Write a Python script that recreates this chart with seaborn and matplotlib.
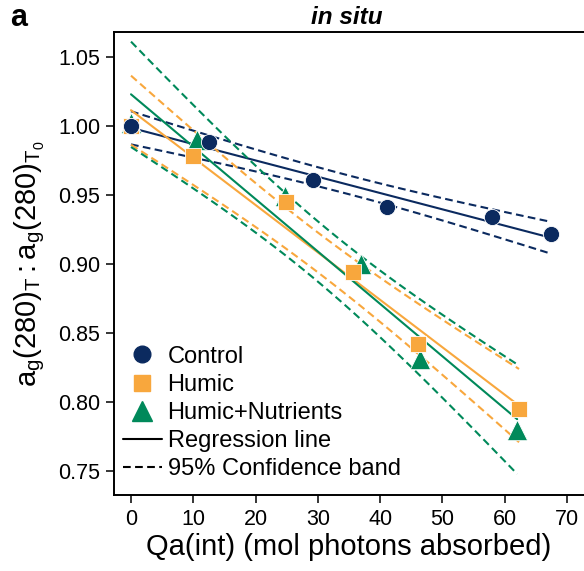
import numpy as np
import pandas as pd
import matplotlib
matplotlib.use("Agg")
import matplotlib.pyplot as plt
from matplotlib.lines import Line2D
import seaborn as sns

# ---- data ----
groups = ["Control", "Humic", "Humic+Nutrients"]
control_x = [0.0, 12.5, 29.2, 41.1, 58.0, 67.4]
control_y = [1.000, 0.9885, 0.9605, 0.941, 0.934, 0.922]
humic_x = [0.0, 10.0, 24.9, 35.6, 46.1, 62.3]
humic_y = [1.000, 0.978, 0.945, 0.894, 0.842, 0.795]
hn_x = [0.0, 10.6, 24.7, 36.9, 46.4, 62.0]
hn_y = [1.002, 0.990, 0.949, 0.900, 0.831, 0.780]

xticks = [0, 10, 20, 30, 40, 50, 60, 70]
yticks = [0.75, 0.80, 0.85, 0.90, 0.95, 1.00, 1.05]

colors = {"Control": "#0b2a5f", "Humic": "#f8a73d", "Humic+Nutrients": "#00895a"}
markers = {"Control": "o", "Humic": "s", "Humic+Nutrients": "^"}
sizes = {"Control": 135, "Humic": 140, "Humic+Nutrients": 215}
T975_DF4 = 2.776  # Student t quantile, 95% two-sided, df = n-2 = 4
DASH = (0, (3.7, 2.1))

data = {
    "Control": (control_x, control_y),
    "Humic": (humic_x, humic_y),
    "Humic+Nutrients": (hn_x, hn_y),
}

sns.set_theme(style="ticks")
plt.rcParams["font.family"] = ["Liberation Sans", "DejaVu Sans"]
plt.rcParams["mathtext.fontset"] = "custom"
plt.rcParams["mathtext.rm"] = "Liberation Sans"
plt.rcParams["mathtext.it"] = "Liberation Sans:italic"
plt.rcParams["text.color"] = "black"
plt.rcParams["axes.labelcolor"] = "black"

fig = plt.figure(figsize=(5.84, 5.71), dpi=100)
ax = fig.add_axes([114 / 584, 76 / 571, 1 - 114 / 584, (495 - 32) / 571])

# regression lines and confidence bands
fit_rows = []
for g in groups:
    x = np.asarray(data[g][0]); y = np.asarray(data[g][1])
    n = len(x)
    b, a = np.polyfit(x, y, 1)
    resid = y - (a + b * x)
    s = np.sqrt(np.sum(resid ** 2) / (n - 2))
    xbar = x.mean(); sxx = np.sum((x - xbar) ** 2)
    xs = np.linspace(x.min(), x.max(), 100)
    yh = a + b * xs
    se = s * np.sqrt(1 / n + (xs - xbar) ** 2 / sxx)
    for kind, yy in (("fit", yh), ("lo", yh - T975_DF4 * se), ("hi", yh + T975_DF4 * se)):
        fit_rows.append(pd.DataFrame({"x": xs, "y": yy, "group": g, "kind": kind}))
fits = pd.concat(fit_rows, ignore_index=True)

for g in groups:
    for kind in ("fit", "lo", "hi"):
        d = fits[(fits.group == g) & (fits.kind == kind)]
        sns.lineplot(data=d, x="x", y="y", ax=ax, color=colors[g],
                     linewidth=1.5, linestyle="-" if kind == "fit" else DASH,
                     legend=False, zorder=2, sort=False)

# points (green bottom, navy top)
for g in ["Humic+Nutrients", "Humic", "Control"]:
    d = pd.DataFrame({"x": data[g][0], "y": data[g][1]})
    sns.scatterplot(data=d, x="x", y="y", ax=ax, color=colors[g], marker=markers[g],
                    s=sizes[g], linewidth=0.6, edgecolor="white", zorder=3, legend=False)

ax.set_xlim(-2.73, 72.73)
ax.set_ylim(0.7326, 1.0681)
ax.set_xticks(xticks)
ax.set_yticks(yticks)
ax.set_yticklabels([f"{v:.2f}" for v in yticks])
ax.tick_params(axis="both", direction="out", length=6, width=1.1, labelsize=15.5,
               color="black", labelcolor="black", pad=4)
for sp in ("left", "bottom", "top"):
    ax.spines[sp].set_linewidth(1.4)
    ax.spines[sp].set_color("black")
ax.spines["right"].set_visible(False)

ax.set_xlabel("Qa(int) (mol photons absorbed)", fontsize=21, labelpad=2, color="black")
ax.set_ylabel(r"$\mathregular{a_g(280)_T : a_g(280)_{T_0}}$", fontsize=21, labelpad=8,
              color="black")
ax.set_title("in situ", fontsize=17.5, fontweight="bold", fontstyle="italic", pad=6,
             x=0.495, color="black")
fig.text(10 / 584, 1 - 26 / 571, "a", fontsize=22, fontweight="bold", color="black")

handles = [
    Line2D([], [], linestyle="none", marker="o", color=colors["Control"], markersize=12),
    Line2D([], [], linestyle="none", marker="s", color=colors["Humic"], markersize=12),
    Line2D([], [], linestyle="none", marker="^", color=colors["Humic+Nutrients"], markersize=15),
    Line2D([], [], color="black", linewidth=1.5),
    Line2D([], [], color="black", linewidth=1.5, linestyle=DASH),
]
labels = groups + ["Regression line", "95% Confidence band"]
leg = ax.legend(handles, labels, loc="lower left", bbox_to_anchor=(-0.004, 0.009),
                frameon=False, fontsize=17, handlelength=1.65, handletextpad=0.25,
                labelspacing=0.26, borderaxespad=0.3, borderpad=0.15)
for t in leg.get_texts():
    t.set_color("black")

fig.savefig("out.png", dpi=100)
